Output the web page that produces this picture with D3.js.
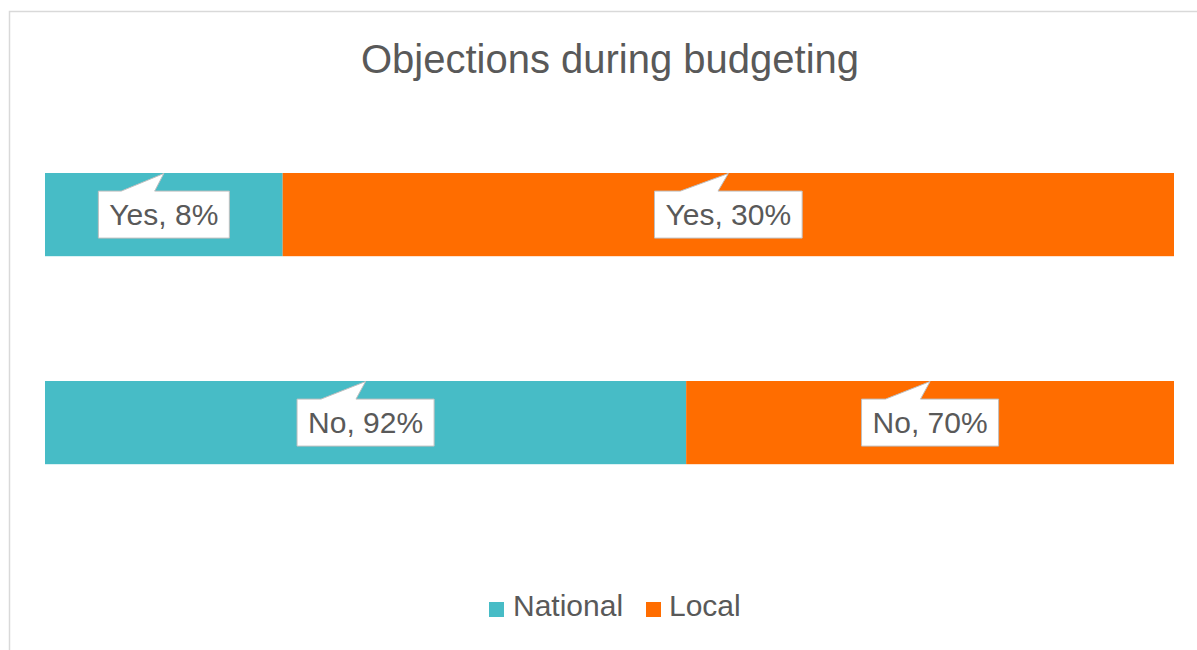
<!DOCTYPE html>
<html>
<head>
<meta charset="utf-8">
<script src="https://cdn.jsdelivr.net/npm/d3@7/dist/d3.min.js"></script>
<style>
  html, body { margin: 0; padding: 0; background: #ffffff; }
  svg { display: block; font-family: "Liberation Sans", Arial, sans-serif; }
</style>
</head>
<body>
<svg id="chart" width="1197" height="650"></svg>
<script>
// Answers to "objections during budgeting", by level of government (percent)
const categories = ["Yes", "No"];
const seriesNames = ["National", "Local"];
const nationalValues = [8, 92];
const localValues = [30, 70];
const seriesColors = ["#47BCC6", "#FF6D00"];
const titleText = "Objections during budgeting";

const rows = categories.map((c, i) => ({
  category: c,
  National: nationalValues[i],
  Local: localValues[i]
}));

const svg = d3.select("#chart");
const W = 1197, H = 650;

// chart frame
svg.append("rect")
  .attr("x", 9.5).attr("y", 11.5)
  .attr("width", W + 10).attr("height", H + 10)
  .attr("fill", "#ffffff")
  .attr("stroke", "#d9d9d9").attr("stroke-width", 1.5);

// title
svg.append("text")
  .attr("x", 610).attr("y", 73)
  .attr("text-anchor", "middle")
  .attr("font-size", 40)
  .attr("fill", "#595959")
  .text(titleText);

// 100% stacked layout
const stack = d3.stack().keys(seriesNames).offset(d3.stackOffsetExpand);
const layers = stack(rows);

const x = d3.scaleLinear().domain([0, 1]).range([45, 1174]);
const y = d3.scaleBand().domain(categories).range([110.6, 526.6])
  .paddingInner(0.6).paddingOuter(0.3);
const color = d3.scaleOrdinal().domain(seriesNames).range(seriesColors);

const groups = svg.selectAll("g.layer").data(layers).enter()
  .append("g").attr("class", "layer")
  .attr("fill", d => color(d.key));

groups.selectAll("rect").data(d => d).enter()
  .append("rect")
  .attr("x", d => x(d[0]))
  .attr("y", d => y(d.data.category))
  .attr("width", d => x(d[1]) - x(d[0]))
  .attr("height", y.bandwidth());

// callout labels: "category, value%"
const labelSize = 30;
const padX = 11, boxH = 47;
const labels = [];
layers.forEach(layer => {
  layer.forEach(d => {
    labels.push({
      text: d.data.category + ", " + d.data[layer.key] + "%",
      cx: (x(d[0]) + x(d[1])) / 2,
      top: y(d.data.category),
      cy: y(d.data.category) + y.bandwidth() / 2
    });
  });
});

const lg = svg.append("g");
labels.forEach(l => {
  const g = lg.append("g");
  const path = g.append("path");
  const t = g.append("text")
    .attr("x", l.cx)
    .attr("y", l.cy + labelSize * 0.36)
    .attr("text-anchor", "middle")
    .attr("font-size", labelSize)
    .attr("fill", "#595959")
    .text(l.text);
  const tw = t.node().getComputedTextLength();
  const w = tw + 2 * padX;
  const x0 = l.cx - w / 2, x1 = l.cx + w / 2;
  const y0 = l.cy - boxH / 2, y1 = l.cy + boxH / 2;
  const b0 = x0 + 0.175 * w, b1 = x0 + 0.43 * w;
  const p = d3.path();
  p.moveTo(x0, y0);
  p.lineTo(b0, y0);
  p.lineTo(l.cx, l.top + 0.5);
  p.lineTo(b1, y0);
  p.lineTo(x1, y0);
  p.lineTo(x1, y1);
  p.lineTo(x0, y1);
  p.closePath();
  path.attr("d", p.toString())
    .attr("fill", "#ffffff")
    .attr("stroke", "#bfbfbf")
    .attr("stroke-width", 1);
});

// legend
const legendItems = [
  { name: seriesNames[0], sx: 489, tx: 513 },
  { name: seriesNames[1], sx: 646, tx: 669 }
];
const leg = svg.append("g");
legendItems.forEach(it => {
  leg.append("rect")
    .attr("x", it.sx).attr("y", 602)
    .attr("width", 15).attr("height", 15)
    .attr("fill", color(it.name));
  leg.append("text")
    .attr("x", it.tx).attr("y", 616)
    .attr("font-size", 30)
    .attr("fill", "#595959")
    .text(it.name);
});
</script>
</body>
</html>
